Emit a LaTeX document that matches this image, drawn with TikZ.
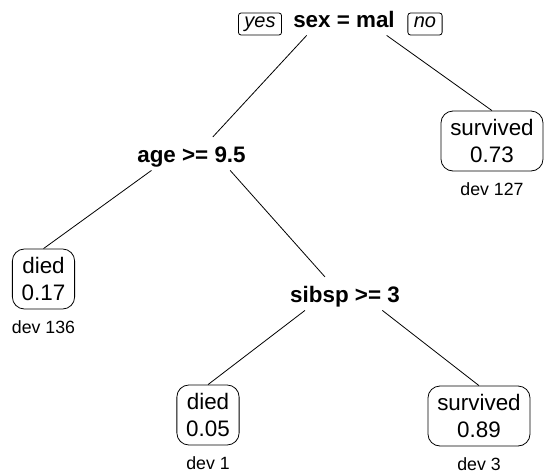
\documentclass[tikz,border=0pt]{standalone}
\usepackage{fontspec}
\setmainfont{Liberation Sans}
\usetikzlibrary{positioning}
\begin{document}
\begin{tikzpicture}[x=0.75pt, y=-0.75pt, line width=0.6pt,
  split/.style={font=\fontsize{16.8}{20}\selectfont\bfseries, inner sep=0pt,
    inner ysep=1.5pt, text height=17pt, text depth=4.5pt, anchor=base},
  leaf/.style={draw, rounded corners=9pt, align=center,
    font=\fontsize{16.8}{20.25}\selectfont, inner xsep=7pt, inner ysep=6.2pt},
  dev/.style={font=\fontsize{13.3}{16}\selectfont, inner sep=0pt},
  answer/.style={draw, rounded corners=2pt, font=\fontsize{15}{17}\selectfont\itshape,
    inner xsep=4.5pt, inner ysep=0pt, minimum height=16.5pt, text height=8pt, text depth=3pt}]

\useasboundingbox (0,0) rectangle (544,475);

\node[split] (sex)   at (344,27)  {sex = mal};
\node[split] (age)   at (191.5,162) {age >= 9.5};
\node[split] (sibsp) at (345,302) {sibsp >= 3};

\node[answer] (yes) at (260,24) {yes};
\node[answer] (no)  at (425,24) {no};

\node[leaf] (died1) at (43.5,279) {died\\0.17};
\node[leaf] (surv1) at (492,141)  {survived\\0.73};
\node[leaf] (died2) at (208,415)  {died\\0.05};
\node[leaf] (surv2) at (479,416)  {survived\\0.89};

\node[dev, below=8pt of died1] (dev1) {dev 136};
\node[dev, below=8pt of surv1] (dev2) {dev 127};
\node[dev, below=8pt of died2] (dev3) {dev 1};
\node[dev, below=8pt of surv2] (dev4) {dev 3};

\draw ([xshift=-28pt]sex.south) -- ([xshift=16pt]age.north);
\draw ([xshift=32pt]sex.south) -- (surv1.north);
\draw ([xshift=-30pt]age.south) -- (died1.north);
\draw ([xshift=29pt]age.south) -- ([xshift=-15pt]sibsp.north);
\draw ([xshift=-30pt]sibsp.south) -- (died2.north);
\draw ([xshift=28pt]sibsp.south) -- (surv2.north);

\end{tikzpicture}
\end{document}
